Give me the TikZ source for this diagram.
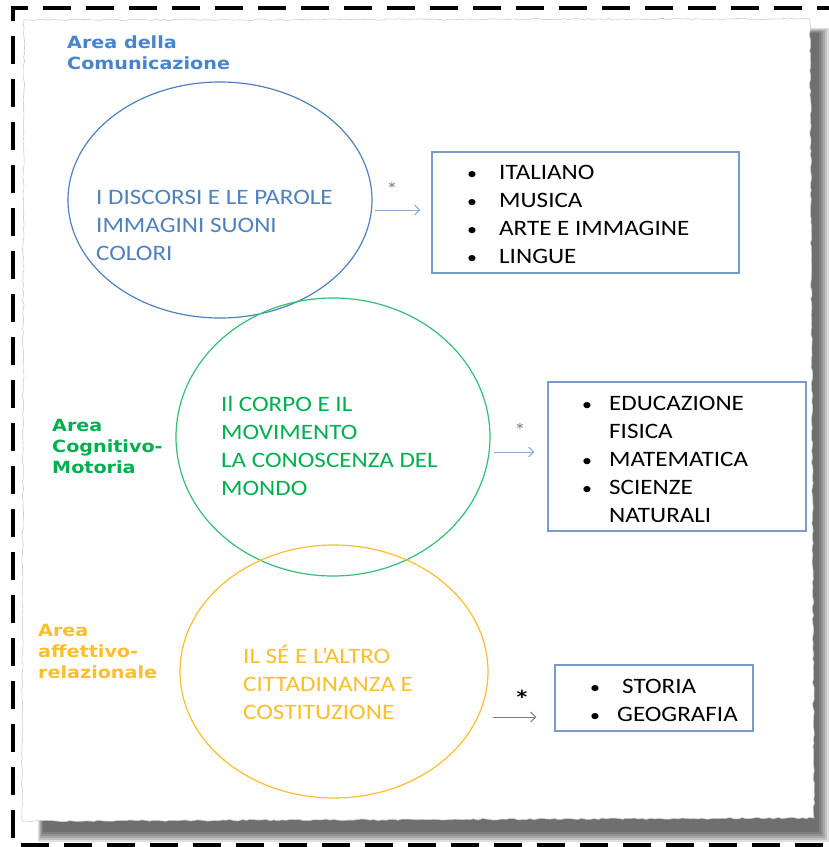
\documentclass[tikz,border=0pt]{standalone}
\usepackage{fontspec}
\setmainfont{Carlito}[FakeStretch=1.14]
\newfontfamily\areafont{DejaVu Sans}[FakeStretch=1.14]
\usetikzlibrary{shapes.geometric,arrows.meta,decorations.pathmorphing}
\definecolor{comblue}{RGB}{79,129,189}
\definecolor{labelblue}{RGB}{72,132,204}
\definecolor{boxblue}{RGB}{120,155,205}
\definecolor{linkblue}{RGB}{140,170,212}
\definecolor{motgreen}{RGB}{0,176,80}
\definecolor{relyellow}{RGB}{252,190,45}
\newcommand{\rows}[1]{\begin{tabular}[t]{@{}l@{}}#1\end{tabular}}
\newcommand{\blt}{\makebox[12pt][c]{\fontsize{17.5}{28}\selectfont\textbullet}}
\newcommand{\subjects}[2][20pt]{\begin{tabular}[t]{@{}l@{\hspace{#1}}l@{}}#2\end{tabular}}
\tikzset{
  area/.style={font=\areafont\bfseries\fontsize{16.8}{21}\selectfont, anchor=base west, inner sep=0pt},
  field/.style={font=\fontsize{22}{28}\selectfont, anchor=base west, inner sep=0pt},
  bubble/.style={ellipse, draw, line width=1.2pt, inner sep=0pt},
  subjbox/.style={draw=boxblue, line width=1.3pt, inner sep=0pt},
  link/.style={-{Straight Barb[length=5pt,width=10pt]}, line width=1pt},
  star/.style={font=\fontsize{20}{20}\selectfont, text=gray, inner sep=0pt}
}

\begin{document}
\begin{tikzpicture}[x=1pt,y=-1pt]
    \useasboundingbox (0,0) rectangle (829,847);
    \pgfmathsetseed{7}
    %dashed frame round the sheet
    \draw[line width=3.5pt, dash pattern=on 28pt off 15pt]
    (845,8) -- (13,8) -- (13,845) -- (845,845);
    %shadow of the torn sheet
    \foreach \g in {0,...,5}
    \fill[black, opacity=0.13] ({38+\g},{28+\g}) rectangle ({829-2*\g},{842-2*\g});
    %torn sheet
    \path[decorate, decoration={random steps, segment length=4pt, amplitude=0.8pt},
    fill=white, draw=gray!40, line width=0.6pt]
    (24,20) -- (810,19) -- (814,818) -- (22,821) -- cycle;

    %comunicazione
    \node[area, text=labelblue] (comlabel) at (67,48) {\rows{Area della\\Comunicazione}};
    \node[bubble, draw=comblue, minimum width=304pt, minimum height=236pt] (ell1) at (220,200) {};
    \node[field, text=comblue] (comtext) at (96,204)
    {\rows{I DISCORSI E LE PAROLE\\IMMAGINI SUONI\\COLORI}};
    \node[subjbox, minimum width=307pt, minimum height=121pt] (box1) at (585.5,212.5) {};
    \node[field] (list1) at (466,179)
    {\subjects[21pt]{\blt & ITALIANO\\ \blt & MUSICA\\ \blt & ARTE E IMMAGINE\\ \blt & LINGUE}};
    \draw[link, linkblue] ([xshift=2pt,yshift=-10pt]ell1.east) -- ([xshift=-11pt,yshift=2.5pt]box1.west);
    \node[star] (ast1) at (392,189) {*};

    %cognitivo-motoria
    \node[area, text=motgreen] (motlabel) at (52,431) {\rows{Area\\Cognitivo-\\Motoria}};
    \node[bubble, draw=motgreen!80, minimum width=314pt, minimum height=278pt] (ell2) at (333,437) {};
    \node[field, text=motgreen] (mottext) at (221,411)
    {\rows{Il CORPO E IL\\MOVIMENTO\\LA CONOSCENZA DEL\\MONDO}};
    \node[subjbox, minimum width=258pt, minimum height=149pt] (box2) at (677,456.5) {};
    \node[field] (list2) at (581,410)
    {\subjects[16pt]{\blt & EDUCAZIONE\\ & FISICA\\ \blt & MATEMATICA\\ \blt & SCIENZE\\ & NATURALI}};
    \draw[link, linkblue] ([xshift=3pt,yshift=-15pt]ell2.east) -- ([xshift=-13pt,yshift=4.5pt]box2.west);
    \node[star] (ast2) at (520,430) {*};

    %affettivo-relazionale
    \node[area, text=relyellow] (rellabel) at (38,636) {\rows{Area\\affettivo-\\relazionale}};
    \node[bubble, draw=relyellow, minimum width=308pt, minimum height=253pt] (ell3) at (334,671.5) {};
    \node[field, text=relyellow] (reltext) at (243,663)
    {\rows{IL SÉ E L’ALTRO\\CITTADINANZA E\\COSTITUZIONE}};
    \node[subjbox, minimum width=198pt, minimum height=66pt] (box3) at (654,698) {};
    \node[field] (list3) at (589,693)
    {\subjects[16pt]{\blt & \hspace{5pt}STORIA\\ \blt & GEOGRAFIA}};
    \draw[link, gray] ([xshift=4pt,yshift=-45.5pt]ell3.east) -- ([xshift=-18pt,yshift=-19pt]box3.west);
    \node[star, text=black, font=\areafont\bfseries\fontsize{18}{18}\selectfont] (ast3) at (522,697) {*};
\end{tikzpicture}
\end{document}
